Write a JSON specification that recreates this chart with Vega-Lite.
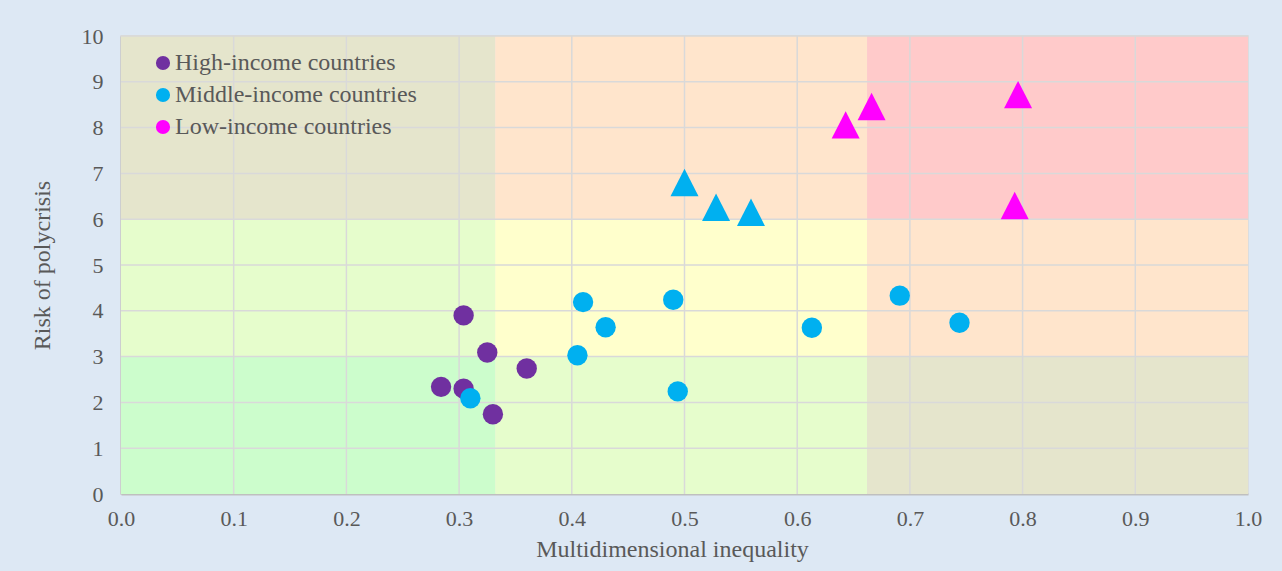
{
  "$schema": "https://vega.github.io/schema/vega-lite/v6.json",
  "width": 1127,
  "height": 458,
  "autosize": {"type": "none"},
  "padding": {"left": 121, "top": 36, "right": 34, "bottom": 77},
  "background": "#dde8f4",
  "config": {
    "font": "Liberation Serif",
    "view": {"stroke": "#d9d9d9", "strokeWidth": 1.5},
    "axis": {
      "labelFont": "Liberation Serif",
      "titleFont": "Liberation Serif",
      "labelColor": "#595959",
      "titleColor": "#595959",
      "labelFontSize": 22,
      "titleFontSize": 24,
      "titleFontWeight": "normal",
      "gridColor": "#d9d9d9",
      "gridWidth": 1.5,
      "domainColor": "#bfbfbf",
      "domainWidth": 2,
      "ticks": false,
      "labelOverlap": false,
      "labelFlush": false
    },
    "legend": {
      "labelFont": "Liberation Serif",
      "labelFontSize": 24,
      "labelColor": "#595959",
      "labelLimit": 0
    }
  },
  "datasets": {
    "zones": [
      {"x1": 0, "x2": 0.332, "y1": 0, "y2": 3, "zone": "low inequality / low risk"},
      {"x1": 0.332, "x2": 0.662, "y1": 0, "y2": 3, "zone": "medium inequality / low risk"},
      {"x1": 0.662, "x2": 1, "y1": 0, "y2": 3, "zone": "high inequality / low risk"},
      {"x1": 0, "x2": 0.332, "y1": 3, "y2": 6, "zone": "low inequality / medium risk"},
      {"x1": 0.332, "x2": 0.662, "y1": 3, "y2": 6, "zone": "medium inequality / medium risk"},
      {"x1": 0.662, "x2": 1, "y1": 3, "y2": 6, "zone": "high inequality / medium risk"},
      {"x1": 0, "x2": 0.332, "y1": 6, "y2": 10, "zone": "low inequality / high risk"},
      {"x1": 0.332, "x2": 0.662, "y1": 6, "y2": 10, "zone": "medium inequality / high risk"},
      {"x1": 0.662, "x2": 1, "y1": 6, "y2": 10, "zone": "high inequality / high risk"}
    ],
    "countries": [
      {"group": "High-income countries", "inequality": 0.284, "risk": 2.34, "high_risk": "no"},
      {"group": "High-income countries", "inequality": 0.304, "risk": 2.30, "high_risk": "no"},
      {"group": "High-income countries", "inequality": 0.304, "risk": 3.90, "high_risk": "no"},
      {"group": "High-income countries", "inequality": 0.325, "risk": 3.09, "high_risk": "no"},
      {"group": "High-income countries", "inequality": 0.330, "risk": 1.74, "high_risk": "no"},
      {"group": "High-income countries", "inequality": 0.360, "risk": 2.74, "high_risk": "no"},
      {"group": "Middle-income countries", "inequality": 0.310, "risk": 2.09, "high_risk": "no"},
      {"group": "Middle-income countries", "inequality": 0.405, "risk": 3.03, "high_risk": "no"},
      {"group": "Middle-income countries", "inequality": 0.410, "risk": 4.19, "high_risk": "no"},
      {"group": "Middle-income countries", "inequality": 0.430, "risk": 3.64, "high_risk": "no"},
      {"group": "Middle-income countries", "inequality": 0.490, "risk": 4.24, "high_risk": "no"},
      {"group": "Middle-income countries", "inequality": 0.494, "risk": 2.24, "high_risk": "no"},
      {"group": "Middle-income countries", "inequality": 0.613, "risk": 3.63, "high_risk": "no"},
      {"group": "Middle-income countries", "inequality": 0.691, "risk": 4.33, "high_risk": "no"},
      {"group": "Middle-income countries", "inequality": 0.744, "risk": 3.74, "high_risk": "no"},
      {"group": "Middle-income countries", "inequality": 0.500, "risk": 6.80, "high_risk": "yes"},
      {"group": "Middle-income countries", "inequality": 0.528, "risk": 6.26, "high_risk": "yes"},
      {"group": "Middle-income countries", "inequality": 0.559, "risk": 6.15, "high_risk": "yes"},
      {"group": "Low-income countries", "inequality": 0.643, "risk": 8.06, "high_risk": "yes"},
      {"group": "Low-income countries", "inequality": 0.666, "risk": 8.46, "high_risk": "yes"},
      {"group": "Low-income countries", "inequality": 0.796, "risk": 8.72, "high_risk": "yes"},
      {"group": "Low-income countries", "inequality": 0.793, "risk": 6.30, "high_risk": "yes"}
    ]
  },
  "layer": [
    {
      "data": {"name": "zones"},
      "mark": {"type": "rect", "strokeWidth": 0},
      "encoding": {
        "x": {"field": "x1", "type": "quantitative", "scale": {"domain": [0, 1], "nice": false},
          "axis": {"title": "Multidimensional inequality", "values": [0,0.1,0.2,0.3,0.4,0.5,0.6,0.7,0.8,0.9,1], "format": ".1f", "labelPadding": 14, "titlePadding": 8, "titleX": 551, "grid": false}},
        "x2": {"field": "x2"},
        "y": {"field": "y1", "type": "quantitative", "scale": {"domain": [0, 10], "nice": false},
          "axis": {"title": "Risk of polycrisis", "values": [0,1,2,3,4,5,6,7,8,9,10], "labelPadding": 18, "titlePadding": 27, "grid": false}},
        "y2": {"field": "y2"},
        "fill": {"field": "zone", "type": "nominal", "legend": null,
          "scale": {
            "domain": ["low inequality / low risk", "medium inequality / low risk", "high inequality / low risk", "low inequality / medium risk", "medium inequality / medium risk", "high inequality / medium risk", "low inequality / high risk", "medium inequality / high risk", "high inequality / high risk"],
            "range": ["#ccfdcc", "#e6fdcc", "#e5e5cc", "#e6fdcc", "#ffffcc", "#ffe5cc", "#e5e5cc", "#ffe5cc", "#ffcaca"]
          }}
      }
    },
    {
      "data": {"values": [{"v": 0.1}, {"v": 0.2}, {"v": 0.3}, {"v": 0.4}, {"v": 0.5}, {"v": 0.6}, {"v": 0.7}, {"v": 0.8}, {"v": 0.9}]},
      "mark": {"type": "rule", "color": "#d9d9d9", "strokeWidth": 1.5},
      "encoding": {"x": {"field": "v", "type": "quantitative"}}
    },
    {
      "data": {"values": [{"v": 1}, {"v": 2}, {"v": 3}, {"v": 4}, {"v": 5}, {"v": 6}, {"v": 7}, {"v": 8}, {"v": 9}, {"v": 10}]},
      "mark": {"type": "rule", "color": "#d9d9d9", "strokeWidth": 1.5},
      "encoding": {"y": {"field": "v", "type": "quantitative"}}
    },
    {
      "data": {"name": "countries"},
      "transform": [{"filter": "datum.high_risk === 'no'"}],
      "mark": {"type": "point", "filled": true, "opacity": 1, "shape": "circle", "size": 415, "strokeWidth": 0},
      "encoding": {
        "x": {"field": "inequality", "type": "quantitative"},
        "y": {"field": "risk", "type": "quantitative"},
        "color": {"field": "group", "type": "nominal",
          "scale": {"domain": ["High-income countries", "Middle-income countries", "Low-income countries"], "range": ["#7030a0", "#00b0f0", "#ff00ff"]},
          "legend": {"title": null, "orient": "none", "legendX": 30, "legendY": 15, "symbolType": "circle", "symbolSize": 200, "symbolStrokeWidth": 0, "rowPadding": 8, "labelOffset": 0}}
      }
    },
    {
      "data": {"name": "countries"},
      "transform": [{"filter": "datum.high_risk === 'yes'"}],
      "mark": {"type": "point", "filled": true, "opacity": 1, "shape": "M0,-0.98L-1,0.98L1,0.98Z", "size": 784, "strokeWidth": 0},
      "encoding": {
        "x": {"field": "inequality", "type": "quantitative"},
        "y": {"field": "risk", "type": "quantitative"},
        "color": {"field": "group", "type": "nominal"}
      }
    }
  ]
}
